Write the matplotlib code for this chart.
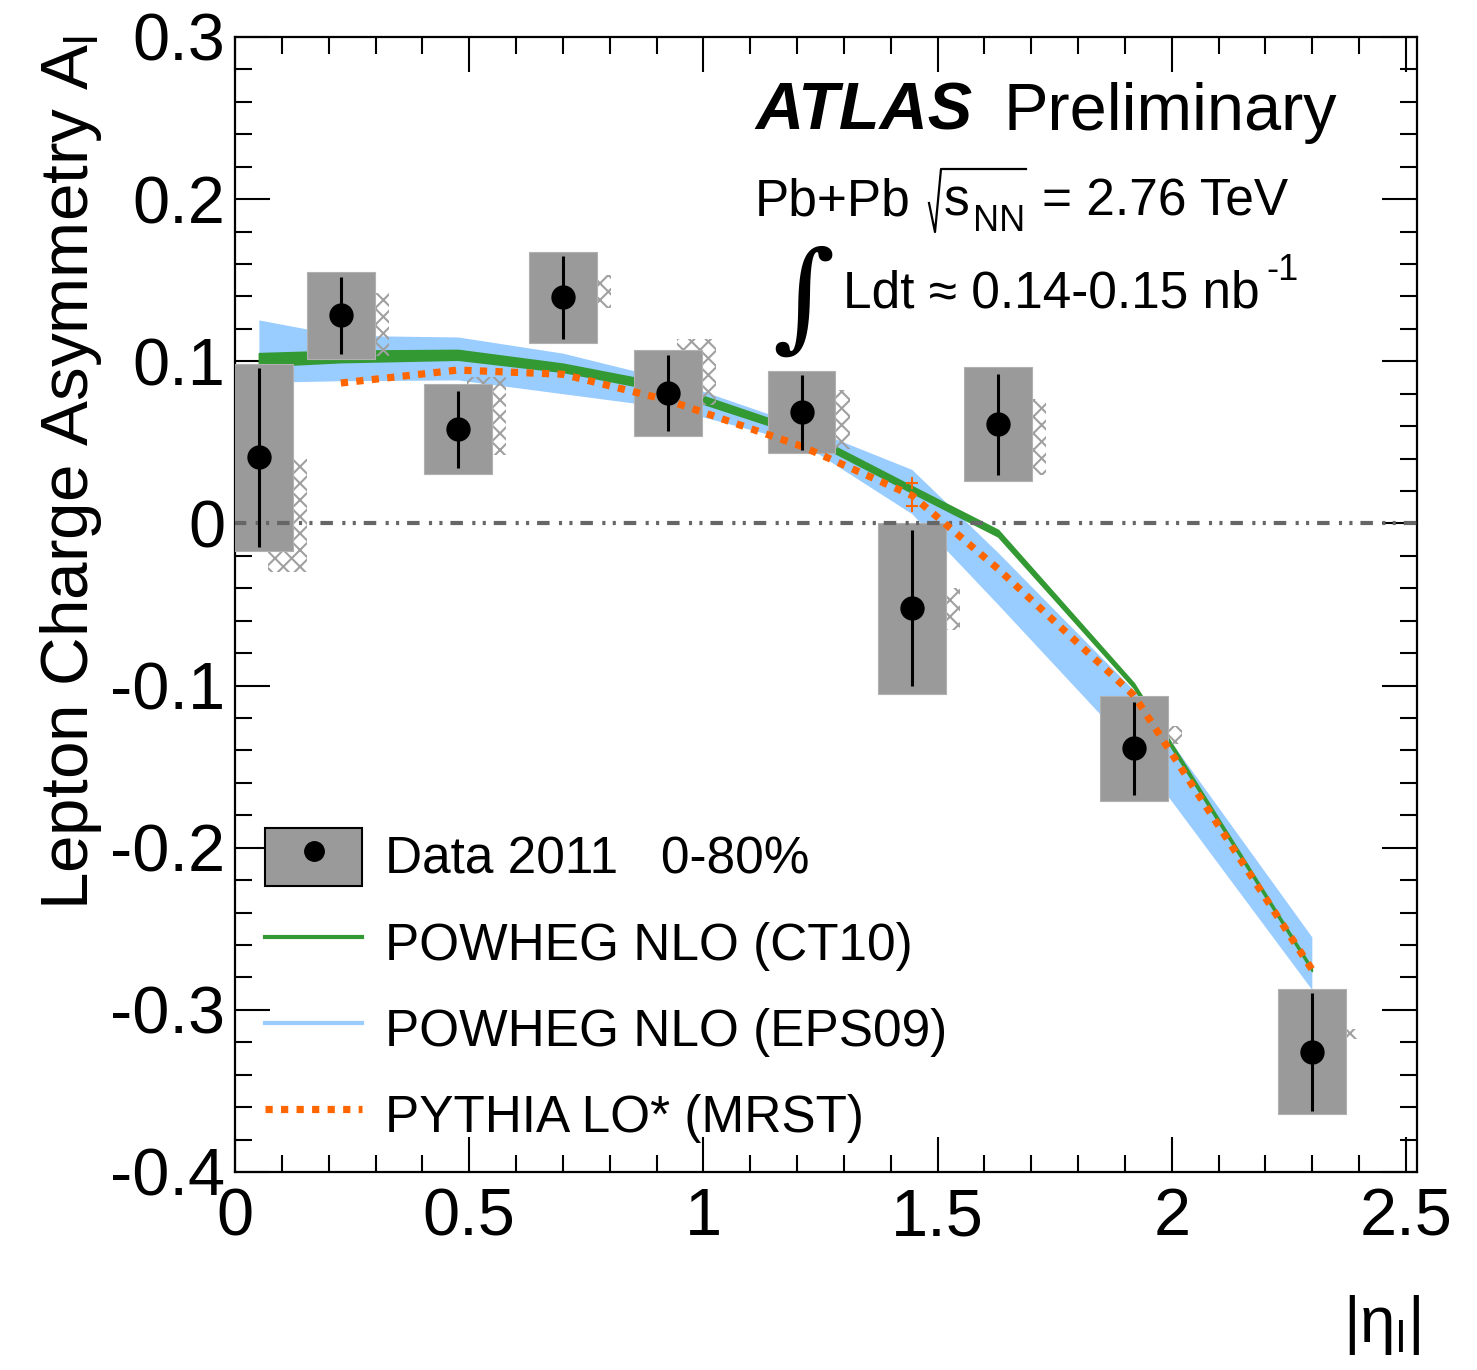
import numpy as np
import matplotlib
matplotlib.use("Agg")
import matplotlib.pyplot as plt
from matplotlib.patches import Rectangle
from matplotlib.lines import Line2D
from matplotlib.legend_handler import HandlerTuple
from matplotlib.ticker import MultipleLocator, FormatStrFormatter

plt.rcParams['font.family'] = ['Liberation Sans', 'DejaVu Sans']
plt.rcParams['mathtext.fontset'] = 'custom'
plt.rcParams['mathtext.rm'] = 'Liberation Sans'
plt.rcParams['mathtext.it'] = 'Liberation Sans:italic'
plt.rcParams['mathtext.bf'] = 'Liberation Sans:bold'
plt.rcParams['axes.unicode_minus'] = False
plt.rcParams['hatch.linewidth'] = 1.5

# ---- measured lepton charge asymmetry (Pb+Pb, 0-80%) ----
eta = [0.051, 0.226, 0.476, 0.700, 0.924, 1.210, 1.445, 1.629, 1.919, 2.299]
asym = [0.0407, 0.1283, 0.0580, 0.1394, 0.0802, 0.0685, -0.0524, 0.0611, -0.1388, -0.3257]
stat_err = [0.0552, 0.0237, 0.0238, 0.0256, 0.0234, 0.0231, 0.0481, 0.0312, 0.0287, 0.0364]
syst_err = [0.0574, 0.0268, 0.0278, 0.0280, 0.0265, 0.0253, 0.0527, 0.0352, 0.0321, 0.0386]
# additional (hatched) uncertainty ranges
hatch_lo = [-0.030, 0.103, 0.042, 0.133, 0.073, 0.046, -0.066, 0.030, -0.136, -0.318]
hatch_hi = [0.040, 0.142, 0.090, 0.153, 0.114, 0.082, -0.040, 0.077, -0.125, -0.312]
bin_half_width = 0.072

# ---- predictions ----
ct10_lo = [0.097, 0.0995, 0.101, 0.0935, 0.081, 0.054, 0.019, -0.008, -0.1015, -0.276]
ct10_hi = [0.105, 0.1065, 0.107, 0.0985, 0.086, 0.058, 0.023, -0.004, -0.0985, -0.274]
eps09_lo = [0.087, 0.088, 0.0885, 0.080, 0.0715, 0.0495, 0.006, -0.050, -0.140, -0.2875]
eps09_hi = [0.1255, 0.116, 0.115, 0.105, 0.089, 0.0605, 0.0333, -0.018, -0.103, -0.255]
pythia = [np.nan, 0.0866, 0.0946, 0.092, 0.076, 0.0476, 0.0173, -0.028, -0.106, -0.275]
pythia_err_eta = [1.445, 1.445]
pythia_err_val = [0.0247, 0.011]

labels = ["Data 2011   0-80%", "POWHEG NLO (CT10)", "POWHEG NLO (EPS09)", "PYTHIA LO* (MRST)"]

W, H = 1477, 1370
fig = plt.figure(figsize=(W / 100, H / 100), dpi=100)
ax = fig.add_axes([235 / W, 1 - 1172 / H, (1417 - 235) / W, (1172 - 37) / H])

green = '#339933'
blue = '#99ccff'
orange = '#ff6600'
box_grey = '#9a9a9a'

ax.fill_between(eta, eps09_lo, eps09_hi, color=blue, lw=0, zorder=1)
ax.fill_between(eta, ct10_lo, ct10_hi, color=green, lw=1.2, edgecolor=green, zorder=2)

for x, lo, hi in zip(eta, hatch_lo, hatch_hi):
    ax.add_patch(Rectangle((x + 0.02, lo), 0.083, hi - lo, facecolor='none',
                           edgecolor='#a0a0a0', lw=0, hatch='xx', zorder=3))

for x, y, s in zip(eta, asym, syst_err):
    ax.add_patch(Rectangle((x - bin_half_width, y - s), 2 * bin_half_width, 2 * s,
                           facecolor=box_grey, edgecolor='#b0b0b0', lw=0.8, zorder=4))

ax.axhline(0, color='#666666', lw=3.0, zorder=5,
           linestyle=(0.3, (3.0, 2.25, 0.75, 1.75, 0.75, 1.9)))

ax.plot(eta, pythia, color=orange, lw=5.2, linestyle=(0, (1.0, 1.15)),
        dash_capstyle='butt', zorder=6)
ax.plot(pythia_err_eta, pythia_err_val, ls='none', marker='+', ms=9, mew=1.5,
        color=orange, zorder=6)

ax.errorbar(eta, asym, yerr=stat_err, fmt='none', ecolor='black', elinewidth=2.2,
            capsize=0, zorder=7)
ax.plot(eta, asym, ls='none', marker='o', ms=16.5, color='black', zorder=8)

ax.set_xlim(0, 2.5235)
ax.set_ylim(-0.4, 0.3)
ax.xaxis.set_major_locator(MultipleLocator(0.5))
ax.xaxis.set_minor_locator(MultipleLocator(0.1))
ax.yaxis.set_major_locator(MultipleLocator(0.1))
ax.yaxis.set_minor_locator(MultipleLocator(0.02))
ax.xaxis.set_major_formatter(FormatStrFormatter('%g'))
ax.yaxis.set_major_formatter(FormatStrFormatter('%g'))
ax.tick_params(which='both', direction='in', top=True, right=True, width=1.5,
               labelsize=48)
ax.tick_params(which='major', length=25)
ax.tick_params(which='minor', length=12.5)
ax.tick_params(axis='y', pad=7)
ax.tick_params(axis='x', pad=11)
for sp in ax.spines.values():
    sp.set_linewidth(1.6)

ax.set_ylabel('Lepton Charge Asymmetry A$_{\\mathrm{l}}$', fontsize=48.5, loc='top')
ax.yaxis.label.set_va('baseline')
ax.yaxis.set_label_coords((88 - 235) / 1182, (1172 - 35) / 1135)
ax.set_xlabel('|η$_{\\mathrm{l}}$|', fontsize=46, loc='right')
ax.xaxis.label.set_va('baseline')
ax.xaxis.set_label_coords((1420 - 235) / 1182, (1172 - 1342) / 1135)

# legend
h_data = (Rectangle((0, 0), 1, 1, facecolor=box_grey, edgecolor='black', lw=1.5),
          Line2D([], [], ls='none', marker='o', ms=14, color='black'))
h_ct10 = Line2D([], [], color=green, lw=3)
h_eps = Line2D([], [], color=blue, lw=3)
h_py = Line2D([], [], color=orange, lw=5.2, linestyle=(0, (1.0, 1.15)), dash_capstyle='butt')
ax.legend([h_data, h_ct10, h_eps, h_py], labels,
          handler_map={tuple: HandlerTuple(ndivide=1, pad=0)},
          loc='upper left', bbox_to_anchor=((265 - 235) / 1182, (1172 - 828) / 1135),
          frameon=False, fontsize=37, handlelength=1.89, handleheight=1.35,
          handletextpad=0.45, labelspacing=0.55, borderpad=0, borderaxespad=0)

# annotations
def fx(px):
    return px / W

def fy(py):
    return 1 - py / H

fig.text(fx(755), fy(130), 'ATLAS', fontsize=48, weight='bold', style='italic', va='baseline')
fig.text(fx(1003), fy(130), 'Preliminary', fontsize=48, va='baseline')

# Pb+Pb sqrt(s_NN) line, with a drawn radical sign
fig.text(fx(755), fy(215), 'Pb+Pb', fontsize=37, va='baseline')
fig.add_artist(Line2D([fx(929), fx(935), fx(941), fx(1026)],
                      [fy(203), fy(232), fy(169), fy(169)],
                      transform=fig.transFigure, color='black', lw=1.6))
fig.text(fx(944), fy(215), 's', fontsize=37, va='baseline')
fig.text(fx(973), fy(231), 'NN', fontsize=26, va='baseline')
fig.text(fx(1042), fy(215), '= 2.76 TeV', fontsize=37, va='baseline')

fig.text(fx(772), fy(336), '∫', fontsize=86, family=['DejaVu Serif'],
         style='italic', va='baseline')
fig.text(fx(843), fy(308), 'Ldt ≈ 0.14-0.15 nb', fontsize=37, va='baseline')
fig.text(fx(1266), fy(280), '-1', fontsize=26, va='baseline')

fig.savefig('out.png', dpi=100)
